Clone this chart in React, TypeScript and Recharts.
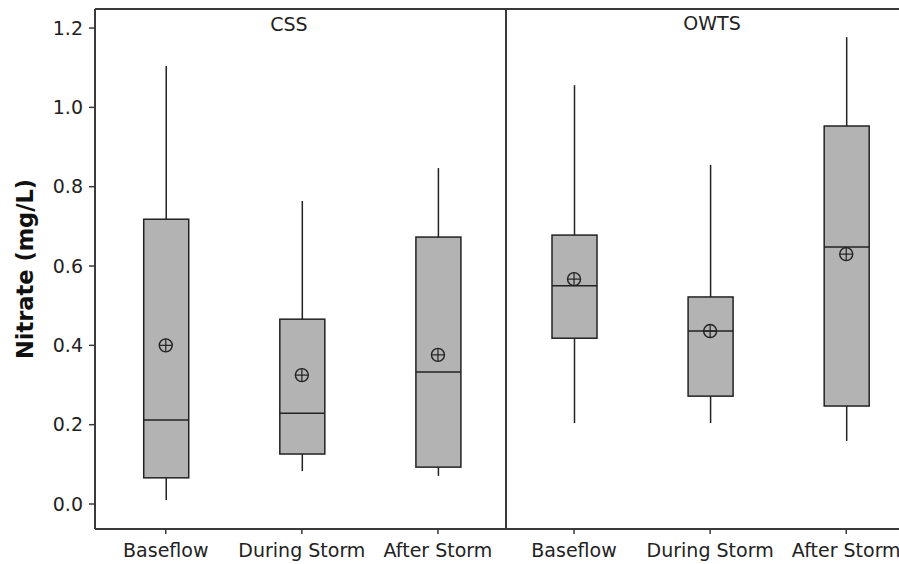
import React from 'react';
import {
  ComposedChart,
  XAxis,
  YAxis,
  Bar,
  Scatter,
  ReferenceLine,
} from 'recharts';

// Sampling conditions, grouped by source (CSS on the left, OWTS on the right)
const groups = ['CSS', 'OWTS'];
const categories = ['Baseflow', 'During Storm', 'After Storm', 'Baseflow', 'During Storm', 'After Storm'];

// Nitrate (mg/L) box-plot statistics per condition
const whiskerLow = [0.010, 0.083, 0.071, 0.204, 0.204, 0.159];
const q1 = [0.066, 0.126, 0.093, 0.418, 0.272, 0.247];
const median = [0.212, 0.229, 0.333, 0.550, 0.436, 0.648];
const q3 = [0.718, 0.466, 0.673, 0.678, 0.522, 0.953];
const whiskerHigh = [1.104, 0.764, 0.847, 1.056, 0.855, 1.177];
const mean = [0.400, 0.325, 0.376, 0.567, 0.436, 0.630];

const yTicks = [0, 0.2, 0.4, 0.6, 0.8, 1.0, 1.2];
const xTicks = [0, 1, 2, 3, 4, 5];
const Y_MIN = -0.063;
const Y_MAX = 1.248;

const FRAME = '#3a3a3a';
const INK = '#222222';
const BOX_FILL = '#b3b3b3';
const FONT = '"DejaVu Sans", Verdana, sans-serif';

type Row = {
  pos: number;
  name: string;
  lo: number;
  q1: number;
  med: number;
  q3: number;
  hi: number;
  mean: number;
};

const data: Row[] = categories.map((name, i) => ({
  pos: i,
  name,
  lo: whiskerLow[i],
  q1: q1[i],
  med: median[i],
  q3: q3[i],
  hi: whiskerHigh[i],
  mean: mean[i],
}));

// Draws whiskers, box and median from the bar's [lo, hi] pixel extent
const BoxShape = (props: any) => {
  const { x, y, width, height, payload } = props;
  if (x == null || y == null || !payload) return null;
  const top = Math.min(y, y + height);
  const bottom = Math.max(y, y + height);
  const { lo, hi } = payload as Row;
  const pxPer = (bottom - top) / (hi - lo);
  const yOf = (v: number) => bottom - (v - lo) * pxPer;
  const cx = x + width / 2;
  const yq1 = yOf(payload.q1);
  const yq3 = yOf(payload.q3);
  const ymed = yOf(payload.med);
  return (
    <g>
      <line x1={cx} x2={cx} y1={top} y2={yq3} stroke={INK} strokeWidth={1.5} />
      <line x1={cx} x2={cx} y1={yq1} y2={bottom} stroke={INK} strokeWidth={1.5} />
      <rect x={x} y={yq3} width={width} height={yq1 - yq3} fill={BOX_FILL} stroke={INK} strokeWidth={1.5} />
      <line x1={x} x2={x + width} y1={ymed} y2={ymed} stroke={INK} strokeWidth={1.5} />
    </g>
  );
};

// Circle-with-cross marker for the mean
const MeanMarker = (props: any) => {
  const { cx, cy } = props;
  if (cx == null || cy == null) return null;
  const r = 6.5;
  return (
    <g>
      <circle cx={cx} cy={cy} r={r} fill="none" stroke={INK} strokeWidth={1.4} />
      <line x1={cx - r} x2={cx + r} y1={cy} y2={cy} stroke={INK} strokeWidth={1.2} />
      <line x1={cx} x2={cx} y1={cy - r} y2={cy + r} stroke={INK} strokeWidth={1.2} />
    </g>
  );
};

export default function App() {
  return (
    <div style={{ width: 883, height: 548 }}>
      <div
        style={{
          position: 'fixed',
          left: 0,
          top: 0,
          width: 899,
          height: 564,
          overflow: 'hidden',
          background: '#ffffff',
        }}
      >
        <ComposedChart
          width={940}
          height={564}
          data={data}
          margin={{ top: 9, right: 23, bottom: 5, left: 35 }}
        >
          <XAxis
            type="number"
            dataKey="pos"
            domain={[-0.52, 5.52]}
            ticks={xTicks}
            interval={0}
            height={30}
            allowDataOverflow
            tickFormatter={(v: number) => categories[v] ?? ''}
            tickSize={5}
            tickMargin={10}
            tick={{ fill: INK, fontSize: 19, fontFamily: FONT }}
            axisLine={{ stroke: FRAME, strokeWidth: 2 }}
            tickLine={{ stroke: FRAME, strokeWidth: 1.5 }}
          />
          <YAxis
            type="number"
            domain={[Y_MIN, Y_MAX]}
            ticks={yTicks}
            interval={0}
            width={60}
            allowDataOverflow
            tickFormatter={(v: number) => v.toFixed(1)}
            tickSize={6}
            tickMargin={6}
            tick={{ fill: INK, fontSize: 19, fontFamily: FONT }}
            axisLine={{ stroke: FRAME, strokeWidth: 2 }}
            tickLine={{ stroke: FRAME, strokeWidth: 1.5 }}
          />
          <ReferenceLine y={Y_MAX} stroke={FRAME} strokeWidth={2} />
          <ReferenceLine x={2.5} stroke={FRAME} strokeWidth={2} />
          <Bar
            dataKey={(d: Row) => [d.lo, d.hi]}
            barSize={45}
            shape={<BoxShape />}
            isAnimationActive={false}
          />
          <Scatter dataKey="mean" shape={MeanMarker} isAnimationActive={false} />
        </ComposedChart>
        <svg
          width={899}
          height={564}
          style={{ position: 'absolute', left: 0, top: 0, pointerEvents: 'none' }}
        >
          <text x={289} y={31} textAnchor="middle" fontFamily={FONT} fontSize={19} fill={INK}>
            {groups[0]}
          </text>
          <text x={712} y={30} textAnchor="middle" fontFamily={FONT} fontSize={19} fill={INK}>
            {groups[1]}
          </text>
          <text
            x={0}
            y={0}
            transform="translate(33 269) rotate(-90)"
            textAnchor="middle"
            fontFamily={FONT}
            fontWeight="bold"
            fontSize={22.5}
            fill="#111"
          >
            Nitrate (mg/L)
          </text>
        </svg>
      </div>
    </div>
  );
}
